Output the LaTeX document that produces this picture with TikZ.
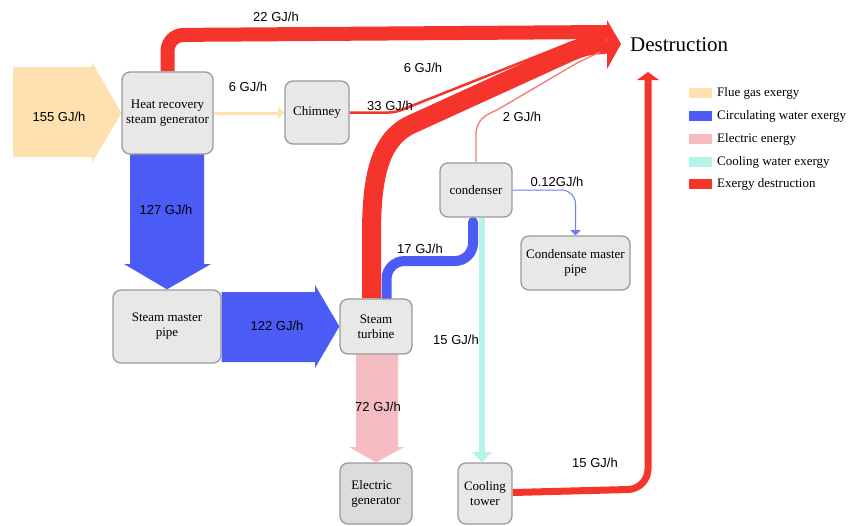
\documentclass[tikz,border=0pt]{standalone}
\usepackage{fontspec}
\setmainfont{Liberation Serif}
\newfontfamily\labfont{Liberation Sans}
\usetikzlibrary{calc,backgrounds}
\definecolor{flue}{HTML}{FFE0B0}
\definecolor{circ}{HTML}{4A5BF6}
\definecolor{elec}{HTML}{F5BDC1}
\definecolor{cool}{HTML}{B4F3E6}
\definecolor{dest}{HTML}{F5352B}
\definecolor{destlight}{HTML}{F47A70}
\definecolor{thinblue}{HTML}{6B7AF8}
\definecolor{boxfill}{HTML}{E8E8E8}
\definecolor{boxfilldark}{HTML}{DCDCDC}
\definecolor{boxline}{HTML}{9A9A9A}
\begin{document}
\begin{tikzpicture}[x=1pt,y=-1pt,
  box/.style={draw=boxline, fill=boxfill, line width=1.3pt, rounded corners=8pt,
    inner sep=0pt, align=center, font=\fontsize{13}{15}\selectfont},
  lab/.style={inner sep=0pt, font=\labfont\fontsize{13}{15}\selectfont},
  legtext/.style={inner sep=0pt, anchor=west, font=\fontsize{13}{15}\selectfont},
  swatch/.style={inner sep=0pt, minimum width=23pt, minimum height=10pt},
  dflow/.style={draw=dest, line cap=butt, line join=round},
]
\useasboundingbox (0,0) rectangle (851,525);

% nodes
\node[box, minimum width=91pt, minimum height=82pt] (hrsg) at (167.5,113) {Heat recovery\\steam generator};
\node[box, minimum width=64pt, minimum height=63pt] (chim) at (317,112.5) {Chimney};
\node[box, minimum width=108pt, minimum height=73pt] (smp) at (167,326.5) {Steam master\\pipe};
\node[box, minimum width=72pt, minimum height=55pt] (st) at (376,326.5) {Steam\\turbine};
\node[box, fill=boxfilldark, minimum width=72pt, minimum height=61pt, align=left] (egen) at (376,493.5) {Electric\\generator};
\node[box, minimum width=54pt, minimum height=61pt] (ctow) at (485,493.5) {Cooling\\tower};
\node[box, minimum width=72pt, minimum height=54pt] (cond) at (476,190) {condenser};
\node[box, minimum width=109pt, minimum height=54pt] (cmp) at (575.5,263) {Condensate master\\pipe};
\node[inner sep=0pt, anchor=west, font=\fontsize{21}{24}\selectfont] (destn) at (630,45) {Destruction};

\coordinate (din) at (13,112);
\coordinate (dj) at (607,44);
\coordinate (dtip) at (621,44);
\coordinate (ctop) at (648,72);

\begin{scope}[on background layer]
\fill[white] (0,0) rectangle (851,525);
% flue gas input
\fill[flue] (din |- 0,67) -- (92,67) -- (92,62) -- (hrsg.west) -- (92,163) -- (92,157) -- (din |- 0,157) -- cycle;
% 127 GJ/h
\fill[circ] (130,154) -- (204,154) -- (204,264) -- (211,264) -- (smp.north) -- (124,264) -- (130,264) -- cycle;
% 122 GJ/h
\fill[circ] (smp.east |- 0,292) -- (315,292) -- (315,285) -- (st.west) -- (315,368) -- (315,362) -- (smp.east |- 0,362) -- cycle;
% 72 GJ/h
\fill[elec] (356,354) -- (398,354) -- (398,447) -- (404,447) -- (egen.north) -- (349,447) -- (356,447) -- cycle;
% flue gas to chimney
\draw[flue, line width=3pt] (hrsg.east) -- (279,113);
\fill[flue] (278,107) -- (chim.west) -- (278,119) -- cycle;
% 22 GJ/h destruction
\draw[dflow, line width=14pt, rounded corners=16pt] (hrsg.north) -- (167.5,35) -- (607,32);
% chimney destruction
\draw[dflow, line width=2.5pt, rounded corners=6pt] (chim.east) -- (395,112.5) -- (575,41) -- (dj);
% steam turbine destruction
\draw[dflow, line width=19pt] ($(st.north)+(-4.5,0)$) -- (371.5,235) .. controls (371.5,175) and (380,140) .. (410,125) -- (570,52) .. controls (585,46) .. (dj);
% condenser destruction
\draw[destlight, line width=1.3pt] (cond.north) -- (476,135) .. controls (476,120) and (485,115) .. (497,110) -- (577,63) -- (600,52);
% destruction head
\fill[dest] (607,20) -- (dtip) -- (607,69) -- cycle;
% steam turbine to condenser
\draw[circ, line width=10pt, rounded corners=18pt, line cap=round] ($(st.north)+(10.5,0)$) -- (386.5,261) -- (473,261) -- (473,222);
% condenser to cooling tower
\draw[cool, line width=6pt] ($(cond.south)+(6,0)$) -- (482,453);
\fill[cool] (472,452) -- (ctow.north -| 482,0) -- (492,452) -- cycle;
% condenser to condensate master pipe
\draw[thinblue, line width=1pt, rounded corners=14pt] (cond.east) -- (575.5,190) -- (575.5,231);
\fill[thinblue] (570,230) -- (cmp.north) -- (581,230) -- cycle;
% cooling tower destruction
\draw[dflow, line width=7pt, rounded corners=20pt] ($(ctow.east)+(0,-1)$) -- (648,489) -- (648,79);
\fill[dest] (637,80) -- (ctop) -- (659,80) -- cycle;
\end{scope}

% labels
\node[lab] (l155) at (59,117) {155 GJ/h};
\node[lab] (l22) at (276,17) {22 GJ/h};
\node[lab] (l6a) at (248,87) {6 GJ/h};
\node[lab] (l127) at (166,210) {127 GJ/h};
\node[lab] (l33) at (390,106) {33 GJ/h};
\node[lab] (l6b) at (423,68) {6 GJ/h};
\node[lab] (l2) at (522,117) {2 GJ/h};
\node[lab] (l012) at (557,182) {0.12GJ/h};
\node[lab] (l17) at (420,249) {17 GJ/h};
\node[lab] (l122) at (277,326) {122 GJ/h};
\node[lab] (l72) at (378,407) {72 GJ/h};
\node[lab] (l15a) at (456,340) {15 GJ/h};
\node[lab] (l15b) at (595,463) {15 GJ/h};

% legend
\node[swatch, fill=flue] (s1) at (700.5,93) {};
\node[legtext] (t1) at (717,93) {Flue gas exergy};
\node[swatch, fill=circ] (s2) at (700.5,116) {};
\node[legtext] (t2) at (717,116) {Circulating water exergy};
\node[swatch, fill=elec] (s3) at (700.5,139) {};
\node[legtext] (t3) at (717,139) {Electric energy};
\node[swatch, fill=cool] (s4) at (700.5,162) {};
\node[legtext] (t4) at (717,162) {Cooling water exergy};
\node[swatch, fill=dest] (s5) at (700.5,184) {};
\node[legtext] (t5) at (717,184) {Exergy destruction};
\end{tikzpicture}
\end{document}
